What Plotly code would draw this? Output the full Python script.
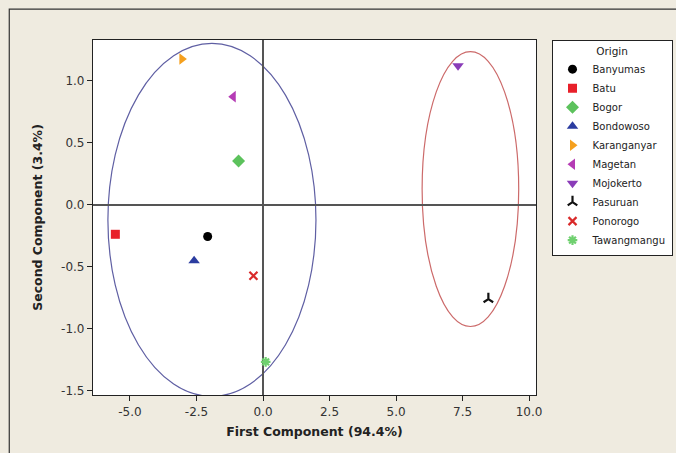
import plotly.graph_objects as go

origins = ["Banyumas", "Batu", "Bogor", "Bondowoso", "Karanganyar", "Magetan",
           "Mojokerto", "Pasuruan", "Ponorogo", "Tawangmangu"]
pc1 = [-2.08, -5.55, -0.92, -2.59, -3.05, -1.12, 7.33, 8.47, -0.36, 0.10]
pc2 = [-0.258, -0.24, 0.352, -0.454, 1.175, 0.871, 1.121, -0.763, -0.575, -1.27]
colors = ["#000000", "#e8202a", "#5cc25c", "#2b3ca0", "#f5a01e", "#b53cb5",
          "#8a3cb8", "#111111", "#d92a2a", "#6fd06f"]
symbols = ["circle", "square", "diamond", "triangle-up", "triangle-right", "triangle-left",
           "triangle-down", "y-up-open", "x-thin-open", "asterisk-open"]
sizes = [9, 9, 10, 10, 10, 10, 10, 8, 8, 8]

# group ellipses: (x0, x1, y0, y1)
ellipse_blue = [-5.83, 1.99, -1.548, 1.30]
ellipse_red = [5.98, 9.61, -0.984, 1.234]

x_ticks = [-5.0, -2.5, 0.0, 2.5, 5.0, 7.5, 10.0]
x_labels = ["-5.0", "-2.5", "0.0", "2.5", "5.0", "7.5", "10.0"]
y_ticks = [-1.5, -1.0, -0.5, 0.0, 0.5, 1.0]
y_labels = ["-1.5", "-1.0", "-0.5", "0.0", "0.5", "1.0"]

fig = go.Figure()
for name, x, y, c, s, sz in zip(origins, pc1, pc2, colors, symbols, sizes):
    fig.add_trace(go.Scatter(
        x=[x], y=[y], mode="markers", name=name,
        marker=dict(color=c, symbol=s, size=sz,
                    line=dict(color=c, width=2.2 if s.endswith("open") else 0)),
    ))

fig.add_shape(type="circle", xref="x", yref="y",
              x0=ellipse_blue[0], x1=ellipse_blue[1], y0=ellipse_blue[2], y1=ellipse_blue[3],
              line=dict(color="#5f5fa3", width=1.2), layer="below")
fig.add_shape(type="circle", xref="x", yref="y",
              x0=ellipse_red[0], x1=ellipse_red[1], y0=ellipse_red[2], y1=ellipse_red[3],
              line=dict(color="#cc6a6a", width=1.2), layer="below")
# outer frame
fig.add_shape(type="rect", xref="paper", yref="paper",
              x0=-0.189, x1=1.6, y0=-0.5, y1=1.087,
              line=dict(color="#333333", width=1.2))

font_family = "DejaVu Sans"
fig.update_layout(
    width=676, height=453,
    margin=dict(l=93, r=140, t=40, b=58, autoexpand=False),
    paper_bgcolor="#efebe0",
    plot_bgcolor="#ffffff",
    font=dict(family=font_family, size=12, color="#222222"),
    showlegend=True,
    legend=dict(
        title=dict(text="Origin", side="top center", font=dict(size=10.5)),
        x=1.035, y=1.0, xanchor="left", yanchor="top",
        bgcolor="#ffffff", bordercolor="#222222", borderwidth=1,
        font=dict(size=10), tracegroupgap=0, itemsizing="trace",
    ),
    xaxis=dict(
        range=[-6.39, 10.26], tickvals=x_ticks, ticktext=x_labels,
        showgrid=False, zeroline=True, zerolinecolor="#555555", zerolinewidth=1.5,
        showline=True, linecolor="#222222", linewidth=1.2, mirror=True,
        ticks="outside", ticklen=5, tickcolor="#222222",
        tickfont=dict(size=12, color="#333333"),
        title=dict(text="<b>First Component (94.4%)</b>", font=dict(size=12.5, color="#222222"),
                   standoff=9),
    ),
    yaxis=dict(
        range=[-1.537, 1.328], tickvals=y_ticks, ticktext=y_labels,
        showgrid=False, zeroline=True, zerolinecolor="#555555", zerolinewidth=1.5,
        showline=True, linecolor="#222222", linewidth=1.2, mirror=True,
        ticks="outside", ticklen=5, tickcolor="#222222",
        tickfont=dict(size=12, color="#333333"),
        title=dict(text="<b>Second Component (3.4%)</b>", font=dict(size=12.5, color="#222222"),
                   standoff=15),
    ),
)

fig.write_html("out.html", config={"displayModeBar": False},
               post_script="document.body.style.margin='0';document.body.style.overflow='hidden';")
